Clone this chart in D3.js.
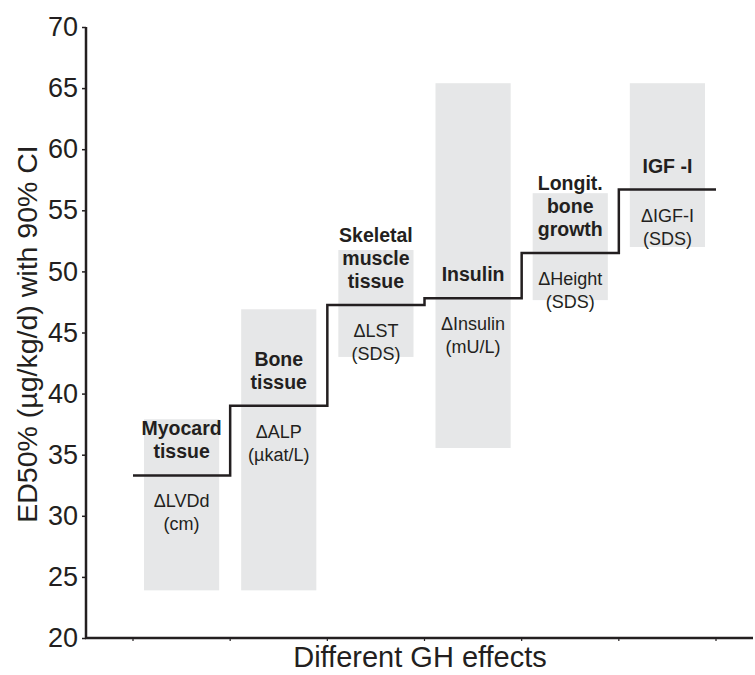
<!DOCTYPE html>
<html lang="en">
<head>
    <meta charset="UTF-8">
    <title>ED50 of GH effects</title>
    <script src="https://d3js.org/d3.v7.min.js"></script>
    <style>
        body { margin: 0; background: #fff; }
        text { font-family: "Liberation Sans", Arial, sans-serif; fill: #231f20; }
    </style>
</head>
<body>
    <div id="chart"></div>

    <script>
        // category titles (bold, above the step) and measured variables (below the step)
        var categories = ["Myocard tissue", "Bone tissue", "Skeletal muscle tissue", "Insulin", "Longit. bone growth", "IGF -I"];
        var titleLines = [["Myocard", "tissue"], ["Bone", "tissue"], ["Skeletal", "muscle", "tissue"], ["Insulin"], ["Longit.", "bone", "growth"], ["IGF -I"]];
        var measureLines = [["\u0394LVDd", "(cm)"], ["\u0394ALP", "(\u00b5kat/L)"], ["\u0394LST", "(SDS)"], ["\u0394Insulin", "(mU/L)"], ["\u0394Height", "(SDS)"], ["\u0394IGF-I", "(SDS)"]];

        // ED50 (ug/kg/d) and 90% CI
        var ed50 = [33.3, 39.0, 47.25, 47.8, 51.5, 56.7];
        var ciLow = [23.9, 23.9, 43.0, 35.55, 47.65, 52.0];
        var ciHigh = [37.9, 46.9, 51.75, 65.4, 56.4, 65.4];

        var yTicks = [20, 25, 30, 35, 40, 45, 50, 55, 60, 65, 70];

        var width = 755;
        var height = 675;
        var ink = "#231f20";

        const svg = d3.select("#chart").append("svg")
            .attr("width", width)
            .attr("height", height);

        var x = d3.scaleBand().domain(categories).range([133, 716]).padding(0);
        var y = d3.scaleLinear().domain([20, 70]).range([638, 27]);
        var boxInset = 11;

        // grey CI boxes
        svg.selectAll("rect.ci")
            .data(categories)
            .enter().append("rect")
            .attr("class", "ci")
            .attr("x", d => x(d) + boxInset)
            .attr("width", x.bandwidth() - 2 * boxInset)
            .attr("y", (d, i) => y(ciHigh[i]))
            .attr("height", (d, i) => y(ciLow[i]) - y(ciHigh[i]))
            .attr("fill", "#e6e7e8");

        // step line through the ED50 values
        var pts = categories.map((c, i) => [x(c), ed50[i]]);
        pts.push([x(categories[categories.length - 1]) + x.bandwidth(), ed50[ed50.length - 1]]);
        var line = d3.line()
            .x(d => d[0])
            .y(d => y(d[1]))
            .curve(d3.curveStepAfter);
        svg.append("path")
            .attr("d", line(pts))
            .attr("fill", "none")
            .attr("stroke", ink)
            .attr("stroke-width", 2.5);

        // labels
        categories.forEach(function (c, i) {
            var cx = x(c) + x.bandwidth() / 2;
            var ly = y(ed50[i]);
            var tl = titleLines[i];
            tl.forEach(function (t, j) {
                svg.append("text")
                    .attr("x", cx)
                    .attr("y", ly - 17 - (tl.length - 1 - j) * 23)
                    .attr("text-anchor", "middle")
                    .attr("font-size", 19.5)
                    .attr("font-weight", "bold")
                    .text(t);
            });
            measureLines[i].forEach(function (t, j) {
                svg.append("text")
                    .attr("x", cx)
                    .attr("y", ly + 32 + j * 23)
                    .attr("text-anchor", "middle")
                    .attr("font-size", 18)
                    .text(t);
            });
        });

        // y axis
        var yAxis = svg.append("g")
            .attr("transform", "translate(86,0)")
            .call(d3.axisLeft(y).tickValues(yTicks).tickSize(4).tickPadding(4));
        yAxis.select(".domain").attr("stroke", ink).attr("stroke-width", 2.5).attr("d", "M0," + y(70) + "V" + y(20));
        yAxis.selectAll(".tick line").attr("stroke", ink).attr("stroke-width", 1.5);
        yAxis.selectAll(".tick text").attr("font-size", 27).attr("fill", ink)
            .attr("font-family", "'Liberation Sans', Arial, sans-serif");

        // x axis: ticks at band edges
        var edges = categories.map(c => x(c)).concat([x(categories[categories.length - 1]) + x.bandwidth()]);
        svg.append("line")
            .attr("x1", 85).attr("x2", 753)
            .attr("y1", y(20)).attr("y2", y(20))
            .attr("stroke", ink).attr("stroke-width", 2.5);
        svg.selectAll("line.xtick")
            .data(edges)
            .enter().append("line")
            .attr("class", "xtick")
            .attr("x1", d => d).attr("x2", d => d)
            .attr("y1", y(20)).attr("y2", y(20) + 3)
            .attr("stroke", ink).attr("stroke-width", 1.2);

        // axis titles
        svg.append("text")
            .attr("x", 420)
            .attr("y", 667)
            .attr("text-anchor", "middle")
            .attr("font-size", 29)
            .text("Different GH effects");

        svg.append("text")
            .attr("transform", "translate(37,334) rotate(-90)")
            .attr("text-anchor", "middle")
            .attr("font-size", 28.5)
            .text("ED50% (\u00b5g/kg/d) with 90% CI");
    </script>
</body>
</html>
